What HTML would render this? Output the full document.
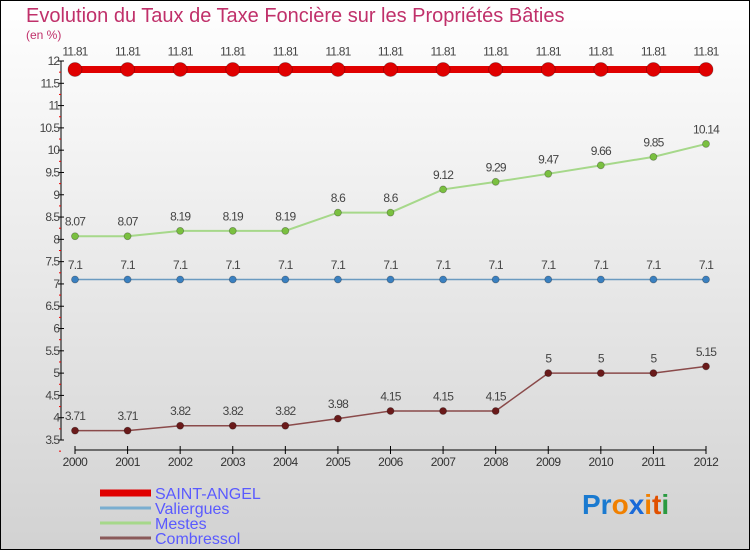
<!DOCTYPE html>
<html><head><meta charset="utf-8"><style>
body{margin:0;}
#c{width:750px;height:550px;position:relative;overflow:hidden;font-family:"Liberation Sans",sans-serif;}
</style></head><body>
<div id="c">
<svg id="s" width="750" height="550" xmlns="http://www.w3.org/2000/svg">
<defs><linearGradient id="bg" x1="0" y1="0" x2="0" y2="1"><stop offset="0" stop-color="#ffffff"/><stop offset="1" stop-color="#d2d2d2"/></linearGradient></defs>
<rect x="0.5" y="0.5" width="749" height="549" fill="url(#bg)" stroke="#000"/>
<text x="26" y="22" font-size="20" fill="#c0306a">Evolution du Taux de Taxe Foncière sur les Propriétés Bâties</text>
<text x="26" y="39" font-size="12" fill="#c0306a">(en %)</text>
<g id="axes"></g><g id="series"></g>
<g>
<line x1="100" y1="493" x2="151" y2="493" stroke="#e00000" stroke-width="7"/>
<text x="155" y="499" font-size="16" fill="#5a5aff">SAINT-ANGEL</text>
<line x1="100" y1="508" x2="151" y2="508" stroke="#7aaed0" stroke-width="3"/>
<text x="155" y="514" font-size="16" fill="#5a5aff">Valiergues</text>
<line x1="100" y1="523" x2="151" y2="523" stroke="#a6d88a" stroke-width="3"/>
<text x="155" y="529" font-size="16" fill="#5a5aff">Mestes</text>
<line x1="100" y1="538" x2="151" y2="538" stroke="#8a5a5a" stroke-width="3"/>
<text x="155" y="544" font-size="16" fill="#5a5aff">Combressol</text>
</g>
<text x="582" y="514" font-size="28" font-weight="bold"><tspan fill="#1a7ad0">Pr</tspan><tspan fill="#f08000">o</tspan><tspan fill="#1a6ad8">x</tspan><tspan fill="#f08000">i</tspan><tspan fill="#e05000">t</tspan><tspan fill="#2a9a40">i</tspan></text>
</svg>
</div>
<script>
const years=[2000,2001,2002,2003,2004,2005,2006,2007,2008,2009,2010,2011,2012];
const saintAngel=[11.81,11.81,11.81,11.81,11.81,11.81,11.81,11.81,11.81,11.81,11.81,11.81,11.81];
const valiergues=[7.1,7.1,7.1,7.1,7.1,7.1,7.1,7.1,7.1,7.1,7.1,7.1,7.1];
const mestes=[8.07,8.07,8.19,8.19,8.19,8.6,8.6,9.12,9.29,9.47,9.66,9.85,10.14];
const combressol=[3.71,3.71,3.82,3.82,3.82,3.98,4.15,4.15,4.15,5,5,5,5.15];
const yTicks=[3.5,4,4.5,5,5.5,6,6.5,7,7.5,8,8.5,9,9.5,10,10.5,11,11.5,12];
const NS="http://www.w3.org/2000/svg";
const xS=i=>75+i*(706-75)/(years.length-1);
const yS=v=>61+(12-v)*(440-61)/8.5;
function mk(tag,attrs,parent,txt){const e=document.createElementNS(NS,tag);for(const k in attrs)e.setAttribute(k,attrs[k]);if(txt!==undefined)e.textContent=txt;parent.appendChild(e);return e;}
const ax=document.getElementById('axes');
let e=mk('line',{x1:61,y1:61,x2:61,y2:440,stroke:'#000'},ax);


e=mk('line',{x1:75,y1:450,x2:706,y2:450,stroke:'#000'},ax);


yTicks.forEach(t=>{const y=yS(t);
 mk('line',{x1:58,y1:y,x2:64,y2:y,stroke:'#000'},ax);
 mk('line',{x1:59,y1:y+11.15,x2:61,y2:y+11.15,stroke:'#e00'},ax);
 const l=mk('text',{x:59,y:y+4,'font-size':12,fill:'#444','text-anchor':'end','letter-spacing':'-1'},ax,String(t));
 
 });
years.forEach((yr,i)=>{const x=xS(i);
 mk('line',{x1:x,y1:446,x2:x,y2:454,stroke:'#000'},ax);
 const l=mk('text',{x:x,y:466,'font-size':12,fill:'#333','text-anchor':'middle','letter-spacing':'-0.5'},ax,String(yr));
 
 });
const sg=document.getElementById('series');
function series(name,vals,color,w,r,dot){
 const g=mk('g',{},sg);
 
 
 mk('polyline',{points:vals.map((v,i)=>xS(i)+','+yS(v)).join(' '),fill:'none',stroke:color,'stroke-width':w},g);
 vals.forEach((v,i)=>{
  const c=mk('circle',{cx:xS(i),cy:yS(v),r:r,fill:dot,stroke:'rgba(0,0,0,0.3)','stroke-width':0.8},g);
  
  
  const t=mk('text',{x:xS(i),y:yS(v)-(r+7),'font-size':12,fill:'#444','text-anchor':'middle','letter-spacing':'-0.8'},g,String(v));
  
  });
}
series('valiergues',valiergues,'#6a9ac0',1.5,3.5,'#3a80c0');
series('mestes',mestes,'#a6d88a',2,3.5,'#7ac040');
series('combressol',combressol,'#8a4a4a',1.5,3.5,'#6a1a1a');
series('saint-angel',saintAngel,'#e00000',7,7,'#e00000');
</script>
</body></html>
